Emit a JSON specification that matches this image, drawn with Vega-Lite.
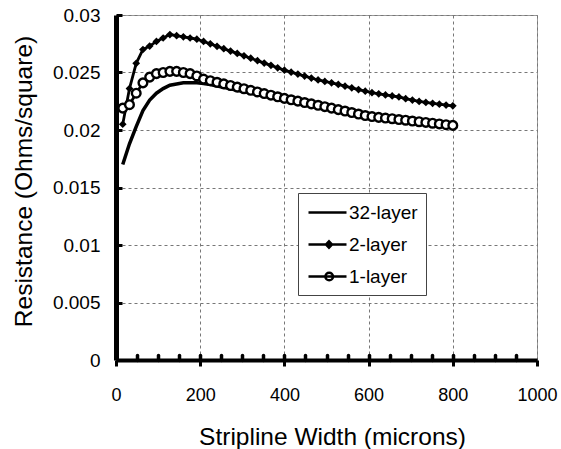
{
  "$schema": "https://vega.github.io/schema/vega-lite/v6.json",
  "width": 421,
  "height": 345,
  "autosize": {"type": "none"},
  "padding": {"left": 116, "top": 15, "right": 24, "bottom": 89},
  "background": "white",
  "config": {
    "font": "Liberation Sans",
    "view": {"stroke": "#999999", "strokeWidth": 1},
    "axis": {"labelFont": "Liberation Sans", "titleFont": "Liberation Sans", "labelColor": "black", "titleColor": "black", "titleFontWeight": "normal"}
  },
  "data": {
    "values": [
      {"w":16,"32-layer":0.0170,"2-layer":0.0205,"1-layer":0.0219},
      {"w":32,"32-layer":0.0188,"2-layer":0.0236,"1-layer":0.0222},
      {"w":48,"32-layer":0.0203,"2-layer":0.0258,"1-layer":0.0232},
      {"w":64,"32-layer":0.0217,"2-layer":0.0270,"1-layer":0.0241},
      {"w":80,"32-layer":0.0226,"2-layer":0.0273,"1-layer":0.0246},
      {"w":96,"32-layer":0.0232,"2-layer":0.0277,"1-layer":0.0249},
      {"w":112,"32-layer":0.0236,"2-layer":0.0280,"1-layer":0.0250},
      {"w":128,"32-layer":0.0239,"2-layer":0.0283,"1-layer":0.0251},
      {"w":144,"32-layer":0.0240,"2-layer":0.0282,"1-layer":0.0251},
      {"w":160,"32-layer":0.0241,"2-layer":0.0281,"1-layer":0.0250},
      {"w":176,"32-layer":0.0241,"2-layer":0.0280,"1-layer":0.0249},
      {"w":192,"32-layer":0.0241,"2-layer":0.0279,"1-layer":0.0247},
      {"w":208,"32-layer":0.02405,"2-layer":0.02770,"1-layer":0.02443},
      {"w":224,"32-layer":0.02395,"2-layer":0.02749,"1-layer":0.02429},
      {"w":240,"32-layer":0.02383,"2-layer":0.02728,"1-layer":0.02415},
      {"w":256,"32-layer":0.02371,"2-layer":0.02707,"1-layer":0.02401},
      {"w":272,"32-layer":0.02359,"2-layer":0.02686,"1-layer":0.02387},
      {"w":288,"32-layer":0.02346,"2-layer":0.02666,"1-layer":0.02373},
      {"w":304,"32-layer":0.02334,"2-layer":0.02645,"1-layer":0.02359},
      {"w":320,"32-layer":0.02321,"2-layer":0.02624,"1-layer":0.02345},
      {"w":336,"32-layer":0.02308,"2-layer":0.02603,"1-layer":0.02331},
      {"w":352,"32-layer":0.02295,"2-layer":0.02582,"1-layer":0.02317},
      {"w":368,"32-layer":0.02282,"2-layer":0.02562,"1-layer":0.02303},
      {"w":384,"32-layer":0.02269,"2-layer":0.02541,"1-layer":0.02289},
      {"w":400,"32-layer":0.02256,"2-layer":0.02520,"1-layer":0.02275},
      {"w":416,"32-layer":0.02245,"2-layer":0.02503,"1-layer":0.02263},
      {"w":432,"32-layer":0.02233,"2-layer":0.02486,"1-layer":0.02251},
      {"w":448,"32-layer":0.02221,"2-layer":0.02469,"1-layer":0.02239},
      {"w":464,"32-layer":0.02209,"2-layer":0.02452,"1-layer":0.02227},
      {"w":480,"32-layer":0.02197,"2-layer":0.02435,"1-layer":0.02215},
      {"w":496,"32-layer":0.02185,"2-layer":0.02422,"1-layer":0.02203},
      {"w":512,"32-layer":0.02173,"2-layer":0.02410,"1-layer":0.02190},
      {"w":528,"32-layer":0.02161,"2-layer":0.02396,"1-layer":0.02177},
      {"w":544,"32-layer":0.02149,"2-layer":0.02381,"1-layer":0.02165},
      {"w":560,"32-layer":0.02137,"2-layer":0.02367,"1-layer":0.02152},
      {"w":576,"32-layer":0.02125,"2-layer":0.02352,"1-layer":0.02139},
      {"w":592,"32-layer":0.02113,"2-layer":0.02338,"1-layer":0.02126},
      {"w":608,"32-layer":0.02104,"2-layer":0.02325,"1-layer":0.02117},
      {"w":624,"32-layer":0.02097,"2-layer":0.02315,"1-layer":0.02110},
      {"w":640,"32-layer":0.02091,"2-layer":0.02305,"1-layer":0.02104},
      {"w":656,"32-layer":0.02085,"2-layer":0.02296,"1-layer":0.02098},
      {"w":672,"32-layer":0.02079,"2-layer":0.02287,"1-layer":0.02091},
      {"w":688,"32-layer":0.02072,"2-layer":0.02272,"1-layer":0.02085},
      {"w":704,"32-layer":0.02066,"2-layer":0.02260,"1-layer":0.02078},
      {"w":720,"32-layer":0.02060,"2-layer":0.02248,"1-layer":0.02072},
      {"w":736,"32-layer":0.02054,"2-layer":0.02240,"1-layer":0.02066},
      {"w":752,"32-layer":0.02048,"2-layer":0.02232,"1-layer":0.02059},
      {"w":768,"32-layer":0.02042,"2-layer":0.02225,"1-layer":0.02053},
      {"w":784,"32-layer":0.02036,"2-layer":0.02217,"1-layer":0.02046},
      {"w":800,"32-layer":0.02030,"2-layer":0.02210,"1-layer":0.02040}
    ]
  },
  "transform": [{"fold": ["32-layer", "2-layer", "1-layer"], "as": ["key", "val"]}],
  "resolve": {"axis": {"x": "independent"}},
  "layer": [
    {
      "mark": {"type": "line", "color": "black", "clip": true},
      "encoding": {
        "x": {
          "field": "w", "type": "quantitative",
          "scale": {"domain": [0, 1000], "nice": false},
          "axis": {
            "orient": "bottom",
            "values": [0, 200, 400, 600, 800, 1000],
            "format": "d",
            "title": "Stripline Width (microns)",
            "titleFontSize": 24.5,
            "titleX": 216, "titleY": 84, "titleBaseline": "alphabetic", "titleAlign": "center",
            "labelFontSize": 18, "labelPadding": 20,
            "domainColor": "black", "domainWidth": 4,
            "tickColor": "black", "tickSize": 6, "tickWidth": 3,
            "grid": true, "gridColor": "#777777", "gridDash": [3, 3], "gridWidth": 1,
            "labelFlush": false
          }
        },
        "y": {
          "field": "val", "type": "quantitative",
          "scale": {"domain": [0, 0.03], "nice": false, "zero": true},
          "axis": {
            "values": [0, 0.005, 0.01, 0.015, 0.02, 0.025, 0.03],
            "format": "~g",
            "title": "Resistance (Ohms/square)",
            "titleFontSize": 24.5,
            "titleX": -85, "titleY": 166, "titleBaseline": "alphabetic", "titleAlign": "center", "titleAngle": 270,
            "labelFontSize": 19, "labelPadding": 22,
            "domainColor": "black", "domainWidth": 5,
            "tickColor": "black", "tickSize": -6, "tickWidth": 3,
            "grid": true, "gridColor": "#777777", "gridDash": [3, 3], "gridWidth": 1,
            "labelFlush": false
          }
        },
        "detail": {"field": "key", "type": "nominal"},
        "strokeWidth": {"condition": {"test": "datum.key === '32-layer'", "value": 3.5}, "value": 2.8}
      }
    },
    {
      "transform": [{"filter": "datum.key === '1-layer'"}],
      "mark": {"type": "point", "shape": "circle", "size": 75, "filled": false, "fill": "white", "stroke": "black", "strokeWidth": 2.4, "opacity": 1},
      "encoding": {
        "x": {
          "field": "w", "type": "quantitative",
          "axis": {
            "orient": "bottom",
            "values": [50,100,150,200,250,300,350,400,450,500,550,600,650,700,750,800,850,900,950],
            "labels": false, "domain": false, "grid": false, "title": null,
            "tickColor": "black", "tickSize": -5, "tickWidth": 3.5, "tickCap": "round"
          }
        },
        "y": {"field": "val", "type": "quantitative"}
      }
    },
    {
      "transform": [{"filter": "datum.key === '2-layer'"}],
      "mark": {"type": "point", "shape": "diamond", "size": 60, "filled": true, "color": "black", "opacity": 1},
      "encoding": {
        "x": {"field": "w", "type": "quantitative", "axis": null},
        "y": {"field": "val", "type": "quantitative"}
      }
    },
    {
      "mark": {"type": "point", "filled": false, "opacity": 0},
      "encoding": {
        "x": {"field": "w", "type": "quantitative", "axis": null},
        "y": {"field": "val", "type": "quantitative"},
        "shape": {
          "field": "key", "type": "nominal",
          "scale": {
            "domain": ["32-layer", "2-layer", "1-layer"],
            "range": [
              "M-0.9,0H2.9",
              "M-0.9,0H2.9M1.15,-0.32L1.45,0L1.15,0.32L0.85,0Z",
              "M-0.9,0H2.9M1.55,0A0.38,0.38 0 1 1 0.79,0A0.38,0.38 0 1 1 1.55,0Z"
            ]
          },
          "legend": {
            "title": null,
            "orient": "none", "legendX": 182, "legendY": 178,
            "padding": 8, "rowPadding": 10,
            "fillColor": "white", "strokeColor": "#444444",
            "symbolSize": 400, "symbolStrokeWidth": 2.5, "symbolOpacity": 1,
            "labelFont": "Liberation Sans", "labelFontSize": 19, "labelColor": "black", "labelOffset": 20
          }
        },
        "fill": {
          "field": "key", "type": "nominal",
          "scale": {"domain": ["32-layer", "2-layer", "1-layer"], "range": ["black", "black", "white"]},
          "legend": {
            "title": null,
            "orient": "none", "legendX": 182, "legendY": 178,
            "padding": 8, "rowPadding": 10,
            "fillColor": "white", "strokeColor": "#444444",
            "symbolSize": 400, "symbolStrokeWidth": 2.5, "symbolOpacity": 1,
            "labelFont": "Liberation Sans", "labelFontSize": 19, "labelColor": "black", "labelOffset": 20
          }
        },
        "stroke": {
          "field": "key", "type": "nominal",
          "scale": {"domain": ["32-layer", "2-layer", "1-layer"], "range": ["black", "black", "black"]},
          "legend": {
            "title": null,
            "orient": "none", "legendX": 182, "legendY": 178,
            "padding": 8, "rowPadding": 10,
            "fillColor": "white", "strokeColor": "#444444",
            "symbolSize": 400, "symbolStrokeWidth": 2.5, "symbolOpacity": 1,
            "labelFont": "Liberation Sans", "labelFontSize": 19, "labelColor": "black", "labelOffset": 20
          }
        }
      }
    }
  ]
}
